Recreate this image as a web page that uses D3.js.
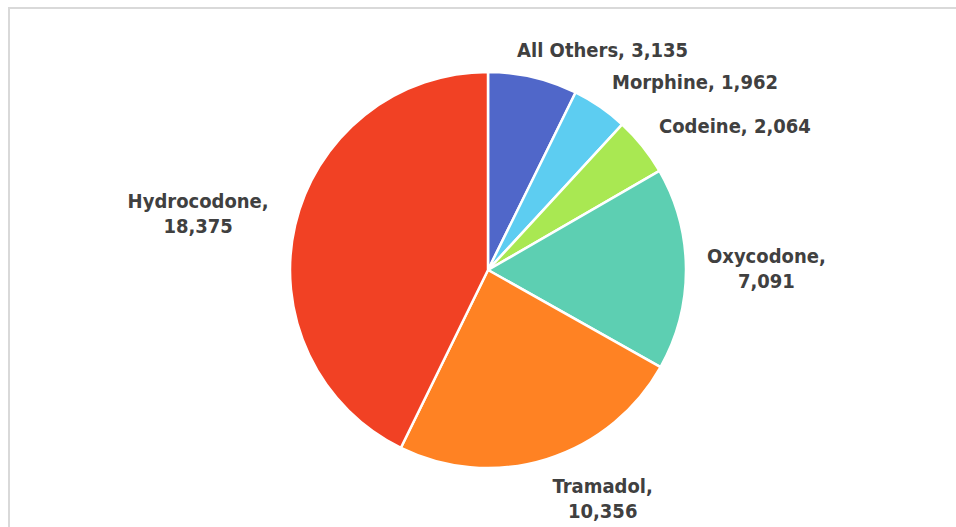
<!DOCTYPE html>
<html><head><meta charset="utf-8">
<script src="https://cdn.jsdelivr.net/npm/d3@7"></script>
<style>html,body{margin:0;padding:0;background:#fff;overflow:hidden}</style>
</head><body>
<svg id="c" width="956" height="527"></svg>
<script>
const categories = ["All Others","Morphine","Codeine","Oxycodone","Tramadol","Hydrocodone"];
const values = [3135,1962,2064,7091,10356,18375];
const labelLines = [["All Others, 3,135"],["Morphine, 1,962"],["Codeine, 2,064"],["Oxycodone,","7,091"],["Tramadol,","10,356"],["Hydrocodone,","18,375"]];
const colors = ["#5067C9","#5DCDF1","#A9E852","#5DCFB2","#FF8223","#F14124"];

const svg = d3.select("#c");
svg.append("rect").attr("x",9).attr("y",8).attr("width",1200).attr("height",800)
  .attr("fill","#fff").attr("stroke","#d9d9d9").attr("stroke-width",2);

const cx = 488, cy = 270, r = 198;
const g = svg.append("g").attr("transform",`translate(${cx},${cy})`);
const data = categories.map((c,i)=>({c, v: values[i], i}));
const pie = d3.pie().value(d=>d.v).sort(null);
const arc = d3.arc().innerRadius(0).outerRadius(r);
const arcs = pie(data);
g.selectAll("path").data(arcs).join("path")
  .attr("d",arc).attr("fill",d=>colors[d.data.i])
  .attr("stroke","#fff").attr("stroke-width",2.5).attr("stroke-linejoin","round");

const fontSize = 20, lineH = 24.4, capH = 14;
const lg = svg.append("g");
arcs.forEach(a=>{
  const th = (a.startAngle + a.endAngle)/2;
  const s = Math.sin(th), c = Math.cos(th);
  const R = r + 21;
  const px = cx + R*s, py = cy - R*c;
  const lines = labelLines[a.data.i];
  const t = lg.append("text").attr("font-family","'DejaVu Sans Condensed','DejaVu Sans',sans-serif")
    .attr("font-weight","bold").attr("font-size",fontSize).attr("fill","#404040")
    .attr("text-anchor","middle");
  lines.forEach((l,k)=>t.append("tspan").attr("x",0).attr("dy",k===0?0:lineH).text(l));
  const bb = t.node().getBBox();
  const w = bb.width, h = capH + (lines.length-1)*lineH;
  const fx = Math.max(0,Math.min(1,0.5-1.67*s));
  const fy = Math.max(0,Math.min(1,0.5+0.8*c));
  const left = px - fx*w - (s < -0.5 ? 6 : 0), top = py - fy*h;
  const x0 = left + w/2;
  const y0 = top + capH;
  t.attr("transform",`translate(${x0},${y0})`);
});
</script>
</body></html>
